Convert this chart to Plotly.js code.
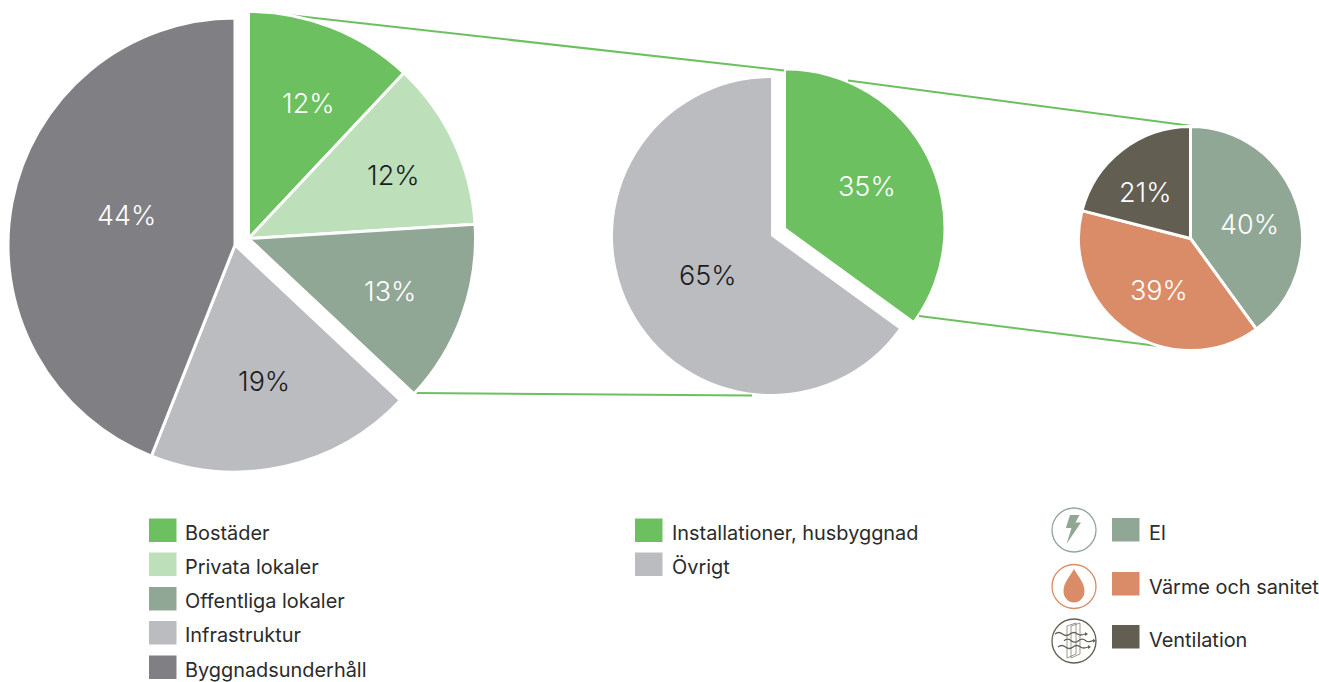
<!DOCTYPE html>
<html lang="sv">
<head>
<meta charset="utf-8">
<title>Installationer i byggsektorn</title>
<script src="https://cdn.plot.ly/plotly-3.0.1.min.js"></script>
<style>html,body{margin:0;padding:0;background:#fff;overflow:hidden}#chart{width:1319px;height:682px}</style>
</head>
<body>
<div id="chart"></div>
<script>
const W = 1319, H = 682;

// Byggsektorns delar
const sectorLabels = ['Bostäder', 'Privata lokaler', 'Offentliga lokaler', 'Infrastruktur', 'Byggnadsunderhåll'];
const sectorValues = [12, 12, 13, 19, 44];
const sectorColors = ['#6cc05f', '#bddfba', '#91a796', '#bbbcc0', '#808084'];
const sectorText = ['#ffffff', '#1c1c1c', '#ffffff', '#1c1c1c', '#ffffff'];

// Installationernas andel
const shareLabels = ['Installationer, husbyggnad', 'Övrigt'];
const shareValues = [35, 65];
const shareColors = ['#6cc05f', '#bbbcc0'];
const shareText = ['#ffffff', '#1c1c1c'];

// Installationernas fördelning
const installLabels = ['El', 'Värme och sanitet', 'Ventilation'];
const installValues = [40, 39, 21];
const installColors = ['#91a796', '#d98c67', '#625e52'];

const CLEAR = 'rgba(0,0,0,0)';
const px = x => x / W;
const py = y => 1 - y / H;

// A pie that shows only the slices named in `keep`, so that groups of slices can sit apart
function pie(values, labels, colors, keep, cx, cy, r, lineWidth) {
  return {
    type: 'pie', sort: false, direction: 'clockwise', rotation: 0,
    values, labels, textinfo: 'none', hoverinfo: 'label+percent', showlegend: false,
    domain: { x: [px(cx - r), px(cx + r)], y: [py(cy + r), py(cy - r)] },
    marker: {
      colors: colors.map((c, i) => keep.includes(i) ? c : CLEAR),
      line: { color: colors.map((c, i) => keep.includes(i) ? '#ffffff' : CLEAR),
              width: colors.map((c, i) => keep.includes(i) ? lineWidth : 0) }
    }
  };
}

const data = [
  pie(sectorValues, sectorLabels, sectorColors, [3, 4], 235, 245, 227, 3),
  pie(sectorValues, sectorLabels, sectorColors, [0, 1, 2], 248.5, 238.5, 227, 3),
  pie(shareValues, shareLabels, shareColors, [1], 771, 236, 158, 0),
  pie(shareValues, shareLabels, shareColors, [0], 786, 228, 157.5, 0),
  pie(installValues, installLabels, installColors, [0, 1, 2], 1190.5, 238.5, 112, 3)
];

const annotations = [];
const shapes = [];

function text(x, y, str, size, color, weight, anchor) {
  annotations.push({
    xref: 'paper', yref: 'paper', x: px(x), y: py(y), text: str, showarrow: false,
    xanchor: anchor, yanchor: 'middle', align: anchor === 'left' ? 'left' : 'center',
    borderpad: 0, borderwidth: 0,
    font: { family: 'Inter, "Noto Sans", sans-serif', size, color, weight }
  });
}

// Percentages on the slices
const PCT = 27;
[[308.5, 104], [393.5, 175], [389.5, 291], [264, 382], [126, 216]].forEach((p, i) =>
  text(p[0], p[1], sectorValues[i] + '%', PCT, sectorText[i], 300, 'center'));
[[866.5, 187], [708, 275]].forEach((p, i) =>
  text(p[0], p[1], shareValues[i] + '%', PCT, shareText[i], 300, 'center'));
[[1249.5, 225], [1158.5, 290], [1145.5, 193]].forEach((p, i) =>
  text(p[0], p[1], installValues[i] + '%', PCT, '#ffffff', 300, 'center'));

function box(x0, y0, x1, y1, fill) {
  shapes.push({ type: 'rect', xref: 'paper', yref: 'paper', x0: px(x0), x1: px(x1),
                y0: py(y0), y1: py(y1), fillcolor: fill, line: { width: 0 } });
}
function line(x0, y0, x1, y1) {
  shapes.push({ type: 'line', xref: 'paper', yref: 'paper', layer: 'below',
                x0: px(x0), x1: px(x1), y0: py(y0), y1: py(y1),
                line: { color: '#6cc05f', width: 2 } });
}
function path(points, closed, fill, stroke, width) {
  // points: strings of SVG commands with pixel pairs, converted to paper space
  const d = points.map(s => s[0] + s.slice(1).trim().split(/\s+/).map((v, i) =>
    (i % 2 === 0 ? px(+v) : py(+v)).toFixed(5)).join(' ')).join(' ') + (closed ? ' Z' : '');
  shapes.push({ type: 'path', xref: 'paper', yref: 'paper', path: d,
                fillcolor: fill || CLEAR, line: { color: stroke || CLEAR, width: width || 0 } });
}
function ring(cx, cy, r, color) {
  shapes.push({ type: 'circle', xref: 'paper', yref: 'paper', x0: px(cx - r), x1: px(cx + r),
                y0: py(cy + r), y1: py(cy - r), fillcolor: CLEAR, line: { color, width: 1.3 } });
}

// Connector lines between the pies
line(270, 13, 784, 70.5);
line(848, 80.5, 1192, 126);
line(415, 393, 752, 395.5);
line(919, 316, 1158, 346);

// Legends
const LEGEND = 19.9, INK = '#2b2b2b';
[518.5, 552.5, 587, 621, 655.5].forEach((y, i) => {
  box(149, y, 176.5, y + 23.5, sectorColors[i]);
  text(185, y + 14, sectorLabels[i], LEGEND, INK, 400, 'left');
});
[518.5, 552.5].forEach((y, i) => {
  box(635, y, 662.5, y + 23.5, shareColors[i]);
  text(672, y + 14, shareLabels[i], LEGEND, INK, 400, 'left');
});
[518, 572, 625].forEach((y, i) => {
  box(1112, y, 1139.5, y + 23.5, installColors[i]);
  text(1149, y + 14.5, installLabels[i], LEGEND, INK, 400, 'left');
});

// El: lightning bolt in a ring
ring(1074, 530, 22, installColors[0]);
path(['M1070 515', 'L1079.5 515', 'L1075.5 522.5', 'L1081 522.5', 'L1066.5 544', 'L1071.5 528', 'L1065.8 528'],
     true, installColors[0]);

// Värme och sanitet: water drop in a ring
ring(1074, 586.5, 22, installColors[1]);
path(['M1074 569', 'C1071 575 1063.5 582 1063.5 591', 'C1063.5 598 1068.5 602.5 1074 602.5',
      'C1079.5 602.5 1084.5 598 1084.5 591', 'C1084.5 582 1077 575 1074 569'], true, installColors[1]);

// Ventilation: air streams through a filter panel in a ring
const V = installColors[2];
ring(1074, 641, 22, V);
path(['M1067 626', 'L1076 623', 'L1076 654', 'L1067 658', 'L1067 626'], false, null, '#8f8c82', 0.9);
path(['M1071 626', 'L1080 623', 'L1080 654', 'L1071 658', 'L1071 626'], false, null, '#8f8c82', 0.9);
[[1055, 634, 1085], [1064, 640.7, 1093], [1058, 647, 1088]].forEach(r => {
  const [a, y, b] = r, s = (b - a) / 6;
  path([`M${a} ${y}`,
        `C${a + s * 0.5} ${y - 2} ${a + s} ${y - 2} ${a + s * 1.5} ${y}`,
        `C${a + s * 2} ${y + 2} ${a + s * 2.5} ${y + 2} ${a + s * 3} ${y}`,
        `C${a + s * 3.5} ${y - 2} ${a + s * 4} ${y - 2} ${a + s * 4.5} ${y}`,
        `C${a + s * 5} ${y + 2} ${a + s * 5.5} ${y + 1} ${b} ${y}`], false, null, V, 1.3);
  path([`M${b} ${y - 2}`, `L${b + 3} ${y}`, `L${b} ${y + 2}`], true, V);
});

Plotly.newPlot('chart', data, {
  width: W, height: H,
  margin: { l: 0, r: 0, t: 0, b: 0 },
  paper_bgcolor: '#ffffff',
  showlegend: false,
  annotations, shapes
}, { displayModeBar: false, staticPlot: true });
</script>
</body>
</html>
